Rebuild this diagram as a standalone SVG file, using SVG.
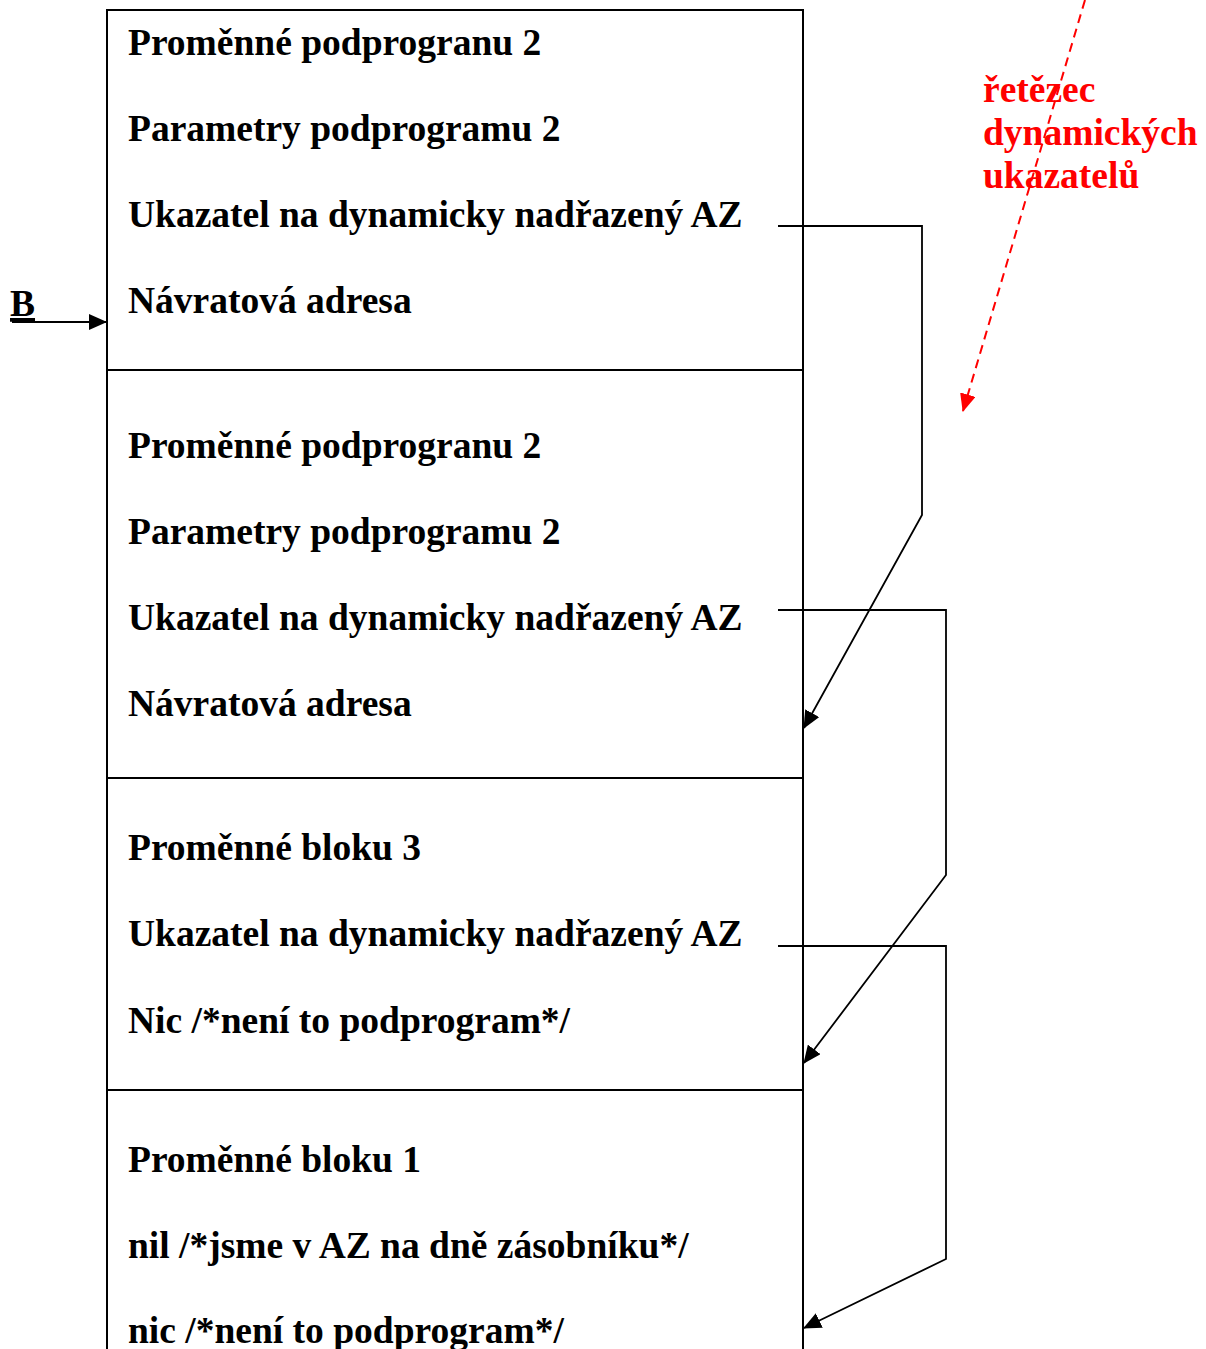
<svg xmlns="http://www.w3.org/2000/svg" width="1206" height="1349" viewBox="0 0 1206 1349">
<style>
.t{font-family:"Liberation Serif","Times New Roman",serif;font-weight:bold;font-size:37.5px;fill:#000}
.r{font-family:"Liberation Serif","Times New Roman",serif;font-weight:bold;font-size:37.5px;fill:#ff0000}
.ln{fill:none;stroke:#000;stroke-width:2}
.c{fill:none;stroke:#000;stroke-width:1.8}
</style>
<defs>
<marker id="ahb" markerWidth="18" markerHeight="16" refX="17" refY="8" orient="auto" markerUnits="userSpaceOnUse" viewBox="0 0 18 16">
<path d="M0,0 L18,8 L0,16 z" fill="#000"/>
</marker>
<marker id="ahr" markerWidth="18" markerHeight="16" refX="17" refY="8" orient="auto" markerUnits="userSpaceOnUse" viewBox="0 0 18 16">
<path d="M0,0 L18,8 L0,16 z" fill="#ff0000"/>
</marker>
</defs>
<rect width="1206" height="1349" fill="#fff"/>
<g id="stack">
<path class="ln" d="M107,1349 V10 H803 V1349"/>
</g>
<g id="az1">
<text class="t" x="128" y="55">Proměnné podprogranu 2</text>
<text class="t" x="128" y="141">Parametry podprogramu 2</text>
<text class="t" x="128" y="227">Ukazatel na dynamicky nadřazený AZ</text>
<text class="t" x="128" y="313">Návratová adresa</text>
</g>
<g id="az2">
<line class="ln" x1="107" y1="370" x2="803" y2="370"/>
<text class="t" x="128" y="458">Proměnné podprogranu 2</text>
<text class="t" x="128" y="544">Parametry podprogramu 2</text>
<text class="t" x="128" y="630">Ukazatel na dynamicky nadřazený AZ</text>
<text class="t" x="128" y="716">Návratová adresa</text>
</g>
<g id="az3">
<line class="ln" x1="107" y1="778" x2="803" y2="778"/>
<text class="t" x="128" y="860">Proměnné bloku 3</text>
<text class="t" x="128" y="946">Ukazatel na dynamicky nadřazený AZ</text>
<text class="t" x="128" y="1033">Nic /*není to podprogram*/</text>
</g>
<g id="az4">
<line class="ln" x1="107" y1="1090" x2="803" y2="1090"/>
<text class="t" x="128" y="1172">Proměnné bloku 1</text>
<text class="t" x="128" y="1258">nil /*jsme v AZ na dně zásobníku*/</text>
<text class="t" x="128" y="1343">nic /*není to podprogram*/</text>
</g>
<g id="b-label">
<text class="t" x="10" y="316" style="text-decoration:underline">B</text>
</g>
<g id="red-label">
<text class="r" x="983" y="102">řetězec</text>
<text class="r" x="983" y="145">dynamických</text>
<text class="r" x="983" y="188">ukazatelů</text>
</g>
<g id="connectors">
<line class="c" x1="12" y1="322" x2="106" y2="322" marker-end="url(#ahb)"/>
<path class="c" d="M778,226 H922 V515 L804,728" marker-end="url(#ahb)"/>
<path class="c" d="M778,610 H946 V875 L804,1063" marker-end="url(#ahb)"/>
<path class="c" d="M778,946 H946 V1259 L804,1328" marker-end="url(#ahb)"/>
<line x1="1085" y1="0" x2="963" y2="411" stroke="#ff0000" stroke-width="2" stroke-dasharray="9,6" marker-end="url(#ahr)"/>
</g>
</svg>
